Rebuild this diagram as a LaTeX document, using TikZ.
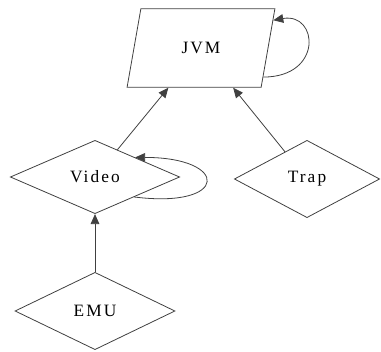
\documentclass[tikz,border=0pt]{standalone}
\usepackage{fontspec}
\setmainfont{Liberation Serif}
\usepackage{tikz}
\usetikzlibrary{shapes.geometric, arrows.meta}
\tikzstyle{vm} = [trapezium, trapezium left angle=69, trapezium right angle=111, trapezium stretches=true, minimum width=111pt, minimum height=59pt, inner sep=0pt, text centered, draw=black!75, line width=0.6pt, font=\addfontfeature{LetterSpace=12}\fontsize{13}{15}\selectfont]
\tikzstyle{unit} = [diamond, inner sep=0pt, text centered, draw=black!75, line width=0.6pt, font=\addfontfeature{LetterSpace=12}\fontsize{13}{15}\selectfont]
\tikzstyle{arrow} = [draw=black!75, line width=0.6pt, -{Triangle[length=7.5pt,width=6.5pt]}]

\begin{document}
\begin{tikzpicture}[x=0.75pt, y=-0.75pt]

\useasboundingbox (0,0) rectangle (381,352);

\node (jvm) [vm] at (201,48) {JVM};

\node (video) [unit, minimum width=127pt, minimum height=55pt] at (95,177) {Video};
\node (trap) [unit, minimum width=109pt, minimum height=58pt] at (307,179) {Trap};
\node (emu) [unit, minimum width=120pt, minimum height=58pt] at (95,311) {EMU};

\draw [arrow] (video) -- (jvm);
\draw [arrow] (trap) -- (jvm);
\draw [arrow] (emu) -- (video);

% self loops
\draw [arrow] (jvm.-25) .. controls +(60,0) and +(45,-8) .. (jvm.21);
\draw [arrow] (video.-27) .. controls +(95,12) and +(95,0) .. (video.26);

\end{tikzpicture}
\end{document}
